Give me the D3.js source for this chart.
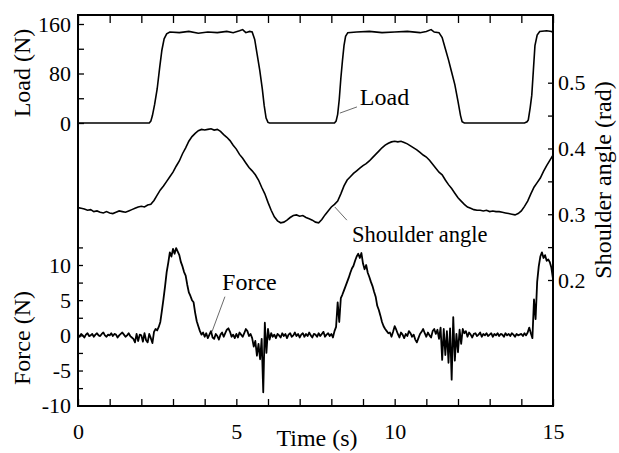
<!DOCTYPE html>
<html>
<head>
<meta charset="utf-8">
<script src="https://cdn.jsdelivr.net/npm/d3@7"></script>
<style>
  body { margin: 0; background: #fff; }
  svg { display: block; }
</style>
</head>
<body>
<div id="chart"></div>
<script>
// ---------------- data ----------------
const timeTicks = [0, 1, 2, 3, 4, 5, 6, 7, 8, 9, 10, 11, 12, 13, 14, 15];
const timeTickLabels = [0, 5, 10, 15];
const loadTicks = [0, 40, 80, 120, 160];
const loadTickLabels = [0, 80, 160];
const forceTicks = [-10, -7.5, -5, -2.5, 0, 2.5, 5, 7.5, 10, 12.5];
const forceTickLabels = [-10, -5, 0, 5, 10];
const angleTicks = [0.2, 0.25, 0.3, 0.35, 0.4, 0.45, 0.5];
const angleTickLabels = [0.2, 0.3, 0.4, 0.5];

// load (N), sampled at irregular times (s)
const loadTime = [0, 2.25, 2.3, 2.35, 2.42, 2.5, 2.58, 2.65, 2.72, 2.8,
  2.9, 3.2, 3.5, 3.8, 4.1, 4.4, 4.7, 4.9, 5.1, 5.2,
  5.3, 5.42, 5.5, 5.58, 5.66, 5.74, 5.82, 5.88, 5.94, 6.0,
  6.05, 7.0, 8.1, 8.15, 8.2, 8.25, 8.3, 8.35, 8.4, 8.45,
  8.52, 8.8, 9.2, 9.6, 10.0, 10.4, 10.8, 11.0, 11.15, 11.25,
  11.4, 11.5, 11.6, 11.7, 11.8, 11.9, 12.0, 12.08, 12.13, 12.2,
  13.0, 14.1, 14.18, 14.22, 14.28, 14.33, 14.38, 14.43, 14.5, 14.58,
  14.8, 14.95, 15];
const loadValues = [0, 0, 3, 12, 30, 55, 90, 118, 136, 144,
  147, 146, 148, 145, 147, 146, 148, 146, 149, 151,
  146, 148, 147, 135, 110, 85, 55, 28, 8, 1,
  0, 0, 0, 3, 14, 38, 72, 100, 125, 140,
  146, 147, 148, 146, 147, 148, 146, 148, 151, 147,
  146, 138, 120, 102, 82, 62, 35, 12, 2, 0,
  0, 0, 2, 5, 25, 45, 85, 125, 142, 148,
  149, 148, 146];

// shoulder angle (rad), one value every 0.1 s
const angleStep = 0.1;
const angleValues = [
  0.310, 0.309, 0.308, 0.306, 0.307, 0.304, 0.305, 0.303, 0.302, 0.304,
  0.302, 0.301, 0.303, 0.305, 0.304, 0.303, 0.305, 0.307, 0.309, 0.311,
  0.312, 0.311, 0.314, 0.315, 0.321, 0.329, 0.337, 0.343, 0.350, 0.357,
  0.364, 0.373, 0.381, 0.392, 0.401, 0.411, 0.418, 0.423, 0.427, 0.429,
  0.428, 0.429, 0.430, 0.428, 0.429, 0.426, 0.421, 0.417, 0.412, 0.405,
  0.399, 0.391, 0.385, 0.378, 0.371, 0.366, 0.360, 0.352, 0.341, 0.331,
  0.318, 0.306, 0.296, 0.290, 0.287, 0.288, 0.291, 0.295, 0.298, 0.299,
  0.297, 0.298, 0.295, 0.293, 0.291, 0.288, 0.287, 0.292, 0.299, 0.305,
  0.311, 0.315, 0.320, 0.331, 0.343, 0.352, 0.357, 0.362, 0.366, 0.370,
  0.374, 0.377, 0.381, 0.386, 0.391, 0.396, 0.401, 0.405, 0.408, 0.410,
  0.411, 0.410, 0.411, 0.409, 0.407, 0.404, 0.401, 0.398, 0.394, 0.390,
  0.387, 0.382, 0.376, 0.370, 0.364, 0.360, 0.352, 0.345, 0.339, 0.332,
  0.325, 0.320, 0.315, 0.311, 0.309, 0.307, 0.306, 0.306, 0.305, 0.306,
  0.304, 0.305, 0.304, 0.304, 0.303, 0.302, 0.301, 0.300, 0.299, 0.301,
  0.305, 0.312, 0.320, 0.331, 0.341, 0.348, 0.355, 0.365, 0.374, 0.382,
  0.390];

// force (N), one value every 0.05 s (one row per second)
const forceStep = 0.05;
const forceValues = [
  0.1, -0.2, 0.2, 0, -0.3, 0.1, 0.3, -0.1, 0, 0.2, -0.2, 0.1, 0.3, 0, -0.1, 0.2, 0.4, 0, -0.2, 0.1,
  0, 0.3, -0.1, 0.2, 0.1, -0.3, 0, 0.2, 0.4, 0.1, -0.2, 0, 0.3, -0.1, -0.3, -0.5, -1, 0.2, -0.8, 0.1,
  0, -0.9, 0.3, -0.7, -1, 0.2, -0.4, -1.1, 0.5, 0.9, 0.7, 1.2, 1.9, 3.5, 5.2, 7, 9, 10.3, 11.8, 11.2,
  12.3, 11.6, 12.4, 11.9, 11.4, 10.4, 9.8, 9.0, 8.5, 7.2, 6.1, 5.6, 5.0, 4.7, 3.2, 2.0, 1.3, 0.6, 0.1, 0.4,
  -0.2, 0.3, -0.4, 0.1, 0.6, -0.3, -0.5, 0.2, -0.1, -0.6, 0.1, 0.4, -0.2, 0.3, 0.8, 1.0, 0.5, -0.2, 0.1, -0.4,
  0.2, -0.3, 0.4, 0.1, -0.2, 0.3, 0.9, 0.6, -0.1, 0.2, -0.4, -1.6, -0.8, -2.9, -1.2, -3.4, -0.5, -8.1, 1.8, -2.5,
  0.9, -0.6, 0.3, -0.2, 0.1, -0.4, 0.2, 0, -0.3, 0.3, -0.1, 0.2, -0.4, 0.1, 0.3, -0.2, 0, 0.4, -0.1, 0.2,
  -0.3, 0.1, 0.3, -0.2, 0.2, -0.1, 0.4, 0, -0.3, 0.2, 0.1, -0.2, 0.3, -0.1, 0.2, 0.5, -0.2, 0.1, 0.3, -0.1,
  0.2, -0.3, 0.6, 1.2, 4.7, 1.9, 5.3, 5.8, 6.4, 7.0, 7.6, 8.2, 8.9, 9.5, 9.9, 10.6, 11.2, 11.6, 11.0, 11.7,
  10.2, 9.4, 10.0, 8.9, 8.3, 7.6, 7.0, 6.2, 5.5, 4.2, 3.6, 2.8, 1.9, 1.3, 0.9, 0.6, 0.3, 0.4, -0.2, 0.5,
  1.3, 0.8, 0.2, -0.3, 0.4, 0.1, -0.4, 0.2, -0.1, 0.6, 0.3, -0.2, 0.1, -0.6, -1.0, -0.4, 0.2, 0.5, 0.9, 0.3,
  -0.2, 0.4, 0, -0.3, 0.6, 0.9, 0.2, 0.8, -0.5, 1.1, -3.5, 0.9, -2.8, 0.6, -3.9, 1.0, -6.3, 2.6, -3.6, 0.2,
  -2.4, 0.8, -1.2, 0.9, 0.3, 0.6, -0.2, 0.4, 0.1, -0.3, 0.2, 0.3, -0.1, 0.1, 0.4, -0.2, 0.2, 0, 0.3, -0.1,
  0.1, 0.3, -0.2, 0.2, 0, 0.3, -0.1, 0.2, 0.1, -0.2, 0.3, 0, 0.2, -0.1, 0.3, 0.1, -0.2, 0.2, 0, 0.1,
  0.2, -0.1, 0.3, 0, 0.4, 1.1, 0.3, -0.4, 5.1, 2.3, 7.6, 9.8, 11.2, 11.8, 11.0, 11.4, 10.6, 10.8, 10.4, 9.6,
  8.0];

// ---------------- chart ----------------
const width = 619, height = 453;
const plot = { left: 78, right: 553, top: 15, bottom: 406 };
const serif = "'Liberation Serif', Tinos, 'Times New Roman', Times, 'Nimbus Roman', 'DejaVu Serif', serif";

const svg = d3.select('#chart')
  .append('svg')
  .attr('width', width)
  .attr('height', height)
  .style('font-family', serif);

svg.append('rect').attr('width', width).attr('height', height).attr('fill', '#fff');

const x = d3.scaleLinear().domain([0, 15]).range([plot.left, plot.right]);
const yLoad = d3.scaleLinear().domain([0, 160]).range([123, 24]);
const yAngle = d3.scaleLinear().domain([0.2, 0.5]).range([280, 82.7]);
const yForce = d3.scaleLinear().domain([-10, 10]).range([405.7, 265]);

const tickFont = 22, titleFont = 24;

//style an axis group: no domain line, serif text
function styleAxis(g) {
  g.select('.domain').remove();
  g.attr('font-family', serif).attr('font-size', tickFont);
  g.selectAll('.tick line').attr('stroke', '#000').attr('stroke-width', 1.3);
  g.selectAll('.tick text')
    .attr('fill', '#000')
    .style('font-family', serif)
    .style('font-size', tickFont + 'px');
}

// bottom axis
svg.append('g')
  .attr('transform', `translate(0,${plot.bottom})`)
  .call(d3.axisBottom(x)
    .tickValues(timeTicks)
    .tickSizeInner(-7)
    .tickSizeOuter(0)
    .tickPadding(17)
    .tickFormat(d => timeTickLabels.includes(d) ? d : ''))
  .call(styleAxis);

// top axis (ticks only)
svg.append('g')
  .attr('transform', `translate(0,${plot.top})`)
  .call(d3.axisTop(x).tickValues(timeTicks).tickSizeInner(-8).tickSizeOuter(0).tickFormat(''))
  .call(styleAxis);

// left: load
svg.append('g')
  .attr('transform', `translate(${plot.left},0)`)
  .call(d3.axisLeft(yLoad)
    .tickValues(loadTicks)
    .tickSizeInner(-6)
    .tickSizeOuter(0)
    .tickPadding(7)
    .tickFormat(d => loadTickLabels.includes(d) ? d : ''))
  .call(styleAxis);

// left: force
svg.append('g')
  .attr('transform', `translate(${plot.left},0)`)
  .call(d3.axisLeft(yForce)
    .tickValues(forceTicks)
    .tickSizeInner(-5)
    .tickSizeOuter(0)
    .tickPadding(7)
    .tickFormat(d => forceTickLabels.includes(d) ? d : ''))
  .call(styleAxis);

// right: shoulder angle
svg.append('g')
  .attr('transform', `translate(${plot.right},0)`)
  .call(d3.axisRight(yAngle)
    .tickValues(angleTicks)
    .tickSizeInner(-5)
    .tickSizeOuter(0)
    .tickPadding(5)
    .tickFormat(d => angleTickLabels.includes(d) ? d3.format('.1f')(d) : ''))
  .call(styleAxis);

// frame
svg.append('rect')
  .attr('x', plot.left)
  .attr('y', plot.top)
  .attr('width', plot.right - plot.left)
  .attr('height', plot.bottom - plot.top)
  .attr('fill', 'none')
  .attr('stroke', '#000')
  .attr('stroke-width', 2);

// curves
const loadLine = d3.line().x((d, i) => x(loadTime[i])).y(d => yLoad(d));
const angleLine = d3.line().x((d, i) => x(i * angleStep)).y(d => yAngle(d));
const forceLine = d3.line().x((d, i) => x(i * forceStep)).y(d => yForce(d));

svg.append('path').attr('d', loadLine(loadValues))
  .attr('fill', 'none').attr('stroke', '#000').attr('stroke-width', 1.6);
svg.append('path').attr('d', angleLine(angleValues))
  .attr('fill', 'none').attr('stroke', '#000').attr('stroke-width', 1.6);
svg.append('path').attr('d', forceLine(forceValues))
  .attr('fill', 'none').attr('stroke', '#000').attr('stroke-width', 1.8)
  .attr('stroke-linejoin', 'round');

// curve labels with leader lines (data coordinates)
const notes = [
  { text: 'Load', size: 24, tx: x(8.9), ty: yLoad(29.6), x1: x(8.27), y1: yLoad(16), x2: x(8.81), y2: yLoad(26) },
  { text: 'Shoulder angle', size: 22.5, tx: x(8.65), ty: yAngle(0.258), x1: x(8.11), y1: yAngle(0.311), x2: x(8.49), y2: yAngle(0.291) },
  { text: 'Force', size: 24, tx: x(4.55), ty: yForce(6.5), x1: x(4.23), y1: yForce(0.5), x2: x(4.64), y2: yForce(5.5) }
];
notes.forEach(n => {
  svg.append('line')
    .attr('x1', n.x1).attr('y1', n.y1).attr('x2', n.x2).attr('y2', n.y2)
    .attr('stroke', '#444').attr('stroke-width', 0.8);
  svg.append('text')
    .attr('x', n.tx).attr('y', n.ty)
    .style('font-size', n.size + 'px')
    .text(n.text);
});

// axis titles
function title(txt, tx, ty, rotate) {
  svg.append('text')
    .attr('transform', `translate(${tx},${ty})` + (rotate ? ' rotate(-90)' : ''))
    .attr('text-anchor', 'middle')
    .style('font-size', titleFont + 'px')
    .text(txt);
}
title('Load (N)', 30, 73, true);
title('Force (N)', 30, 338, true);
title('Shoulder angle (rad)', 611, 180, true);
title('Time (s)', 317, 446, false);
</script>
</body>
</html>
